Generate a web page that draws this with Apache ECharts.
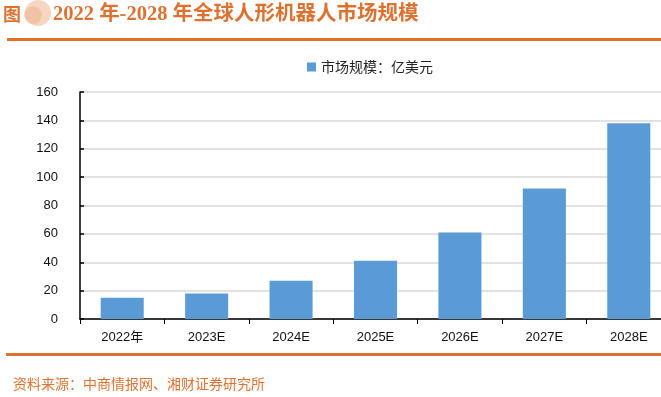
<!DOCTYPE html>
<html><head><meta charset="utf-8">
<script src="https://cdn.jsdelivr.net/npm/echarts@6/dist/echarts.min.js"></script>
<style>html,body{margin:0;padding:0;background:#fff}#c{width:661px;height:397px}</style>
</head><body><div id="c"></div>
<script>
const categories = ['2022年','2023E','2024E','2025E','2026E','2027E','2028E'];
const marketSize = [15, 18, 27, 41, 61, 92, 138];
const seriesName = '市场规模：亿美元';
const titleText = '2022 年-2028 年全球人形机器人市场规模';
const sourceText = '资料来源：中商情报网、湘财证券研究所';

const orange = '#dd7230';
const chart = echarts.init(document.getElementById('c'), null, {renderer:'canvas'});
chart.setOption({
  animation:false,
  backgroundColor:'#fff',
  graphic:[
    {type:'circle', shape:{cx:38, cy:13, r:13}, style:{fill:'#f6d6c0'}},
    {type:'circle', shape:{cx:33, cy:15, r:9}, style:{fill:'#efb691', opacity:0.6}},
    {type:'text', left:3, top:5, style:{text:'图', fill:orange, font:'bold 18px "Noto Sans CJK SC"'}},
    {type:'text', left:53, top:4, style:{text:titleText, fill:orange, font:'bold 20.5px "Liberation Serif","Noto Sans CJK SC"'}},
    {type:'rect', shape:{x:7, y:38, width:660, height:3}, style:{fill:orange}},
    {type:'rect', shape:{x:6, y:353, width:660, height:3}, style:{fill:orange}},
    {type:'text', left:13, top:377, style:{text:sourceText, fill:orange, font:'14px "Noto Sans CJK SC"'}}
  ],
  legend:{
    top:55, left:302,
    itemWidth:9, itemHeight:9, itemGap:6,
    icon:'rect',
    textStyle:{fontSize:14, color:'#222', fontFamily:'"Noto Sans CJK SC"'},
    data:[seriesName]
  },
  grid:{left:80, width:591, top:92, bottom:78, containLabel:false, outerBoundsMode:'none'},
  xAxis:{
    type:'category', data:categories,
    axisLine:{lineStyle:{color:'#000', width:1.5}},
    axisTick:{show:true, length:5, lineStyle:{color:'#000'}},
    axisLabel:{color:'#111', fontSize:13, margin:12, fontFamily:'"Liberation Sans","Noto Sans CJK SC"'}
  },
  yAxis:{
    type:'value', min:0, max:160, interval:20,
    axisLine:{show:true, lineStyle:{color:'#000', width:1.5}},
    axisTick:{show:true, inside:true, length:4, lineStyle:{color:'#000', width:1.5}},
    axisLabel:{color:'#111', fontSize:13, margin:22, fontFamily:'"Liberation Sans"'},
    splitLine:{lineStyle:{color:'#d9d9d9', width:1.5}}
  },
  series:[{
    name:seriesName, type:'bar', data:marketSize,
    barWidth:'51%',
    itemStyle:{color:'#5b9bd5'}
  }]
});
</script></body></html>
